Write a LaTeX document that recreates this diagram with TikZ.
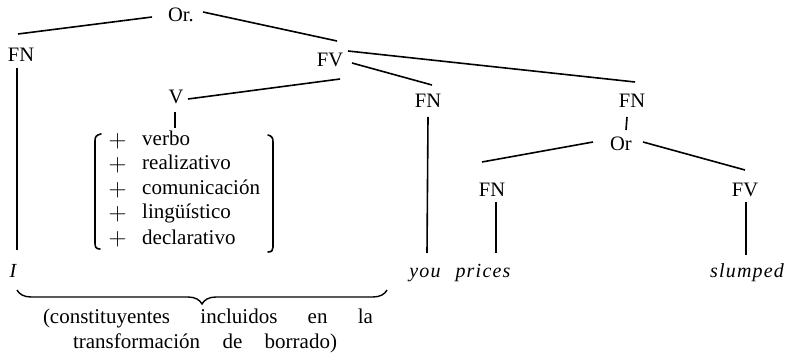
\documentclass[tikz,border=0pt]{standalone}
\usepackage{fontspec}
\setmainfont{Liberation Serif}
\newfontfamily\wideital[LetterSpace=6]{Liberation Serif Italic}
\usetikzlibrary{decorations.pathreplacing}
\begin{document}
\begin{tikzpicture}[x=1pt,y=-1pt,
  cat/.style={font=\fontsize{20.5}{24}\selectfont, inner sep=0pt},
  capt/.style={font=\fontsize{21}{24}\selectfont, inner sep=0pt, anchor=base},
  word/.style={font=\fontsize{20}{24}\selectfont\wideital, inner sep=0pt, anchor=base},
  feat/.style={font=\fontsize{21}{24}\selectfont, inner sep=0pt, anchor=base west},
  plus/.style={font=\fontsize{24}{24}\selectfont, inner sep=0pt},
  edge/.style={line width=1.6pt},
  bracketline/.style={line width=1.6pt, line cap=round}]
\useasboundingbox (0,0) rectangle (789,355);

% category nodes
\node[cat] (or)  at (181,15)  {Or.};
\node[cat] (fn1) at (21,55)   {FN};
\node[cat] (fv)  at (330,60)  {FV};
\node[cat] (v)   at (176,97)  {V};
\node[cat] (fn2) at (428,101) {FN};
\node[cat] (fn3) at (632,101) {FN};
\node[cat] (or2) at (621,144) {Or};
\node[cat] (fn4) at (492,190) {FN};
\node[cat] (fv2) at (745,190) {FV};

% terminal words
\node[word] (wi)      at (13,277)  {I};
\node[word] (you)     at (425,277) {you};
\node[word] (prices)  at (483,277) {prices};
\node[word] (slumped) at (747,277) {slumped};

% feature matrix
\coordinate (featTop) at (175,128);
\foreach \r/\t [count=\i] in {141/verbo,165/realizativo,190/comunicación,214/lingüístico,239/declarativo}{
  \node[plus] (p\i) at (117.5,\r) {$+$};
  \node[feat] (f\i) at (142,\r+5) {\t};
}
\draw[bracketline] (101,134) .. controls (96,135) and (95,137) .. (95,141)
  -- (95,243) .. controls (95,247) and (96,249) .. (100,249);
\draw[bracketline] (268,135) .. controls (272,136) and (273,138) .. (273,142)
  -- (273,247) .. controls (273,250) and (272,252) .. (268,252);

% edges
\draw[edge] ([shift={(-29,2)}]or.center) -- ([shift={(-3,-21)}]fn1.center);
\draw[edge] ([shift={(22,-3)}]or.center) -- ([shift={(7,-19)}]fv.center);
\draw[edge] ([shift={(18,-9)}]fv.center) -- ([shift={(3,-19)}]fn3.center);
\draw[edge] ([shift={(22,3)}]fv.center) -- ([shift={(4,-16)}]fn2.center);
\draw[edge] ([shift={(10,19)}]fv.center) -- ([shift={(12,2)}]v.center);
\draw[edge] ([shift={(-1,15)}]v.center) -- (featTop);
\draw[edge] ([shift={(-4,13)}]fn1.center) -- ([shift={(4,-27)}]wi.base);
\draw[edge] ([shift={(0,16)}]fn2.center) -- ([shift={(2,-24)}]you.base);
\draw[edge] ([shift={(-5,16)}]fn3.center) -- ([shift={(5,-14)}]or2.center);
\draw[edge] ([shift={(-28,-2)}]or2.center) -- ([shift={(-10,-28)}]fn4.center);
\draw[edge] ([shift={(22,-2)}]or2.center) -- ([shift={(0,-20)}]fv2.center);
\draw[edge] ([shift={(4,12)}]fn4.center) -- ([shift={(13,-24)}]prices.base);
\draw[edge] ([shift={(1,12)}]fv2.center) -- ([shift={(-1,-22)}]slumped.base);

% brace and caption
\coordinate (braceL) at (17,290);
\coordinate (braceR) at (387,290);
\draw[line width=1.4pt, decorate, decoration={brace, mirror, amplitude=14pt}] (braceL) -- (braceR);
\node[capt] (cap1) at (208,323)
  {\makebox[330pt][s]{(constituyentes\hfill incluidos\hfill en\hfill la}};
\node[capt] (cap2) at (205,348)
  {\makebox[264pt][s]{transformación\hspace{14pt plus 1fil}de\hspace{14pt plus 1fil}borrado)}};
\end{tikzpicture}
\end{document}
